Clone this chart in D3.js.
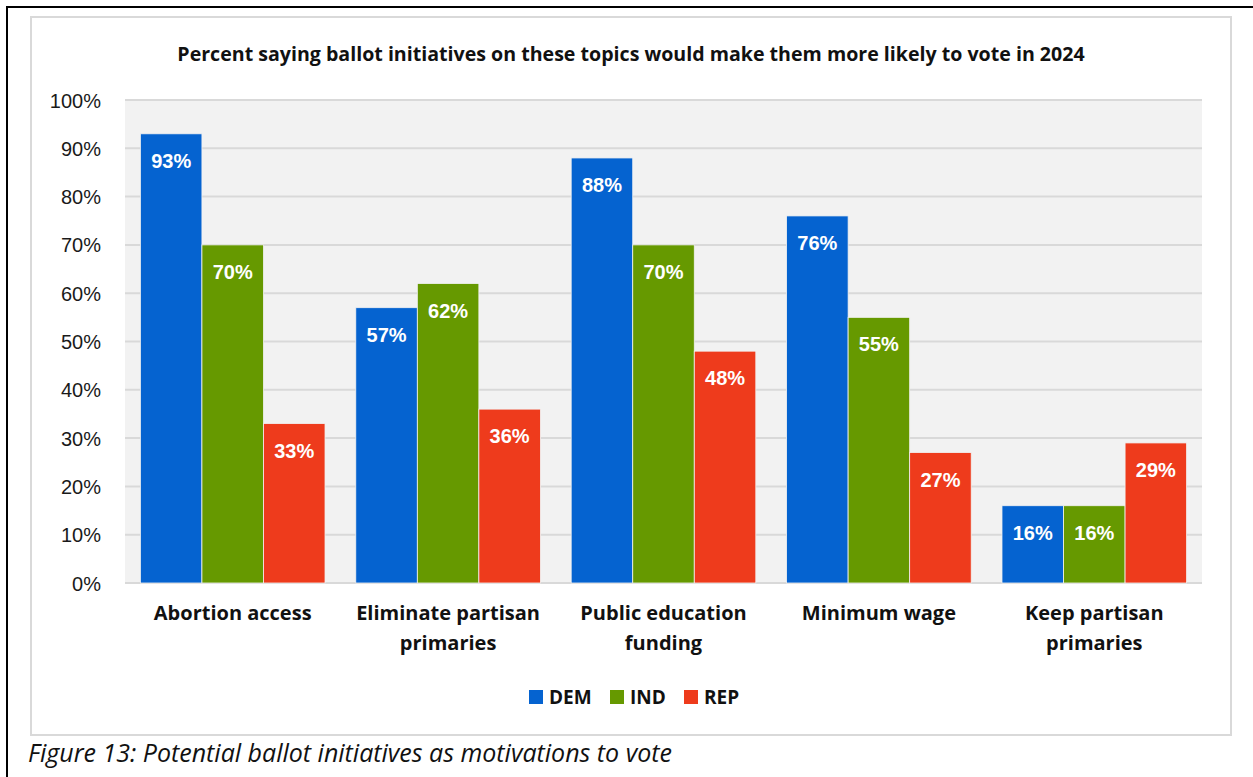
<!DOCTYPE html>
<html>
<head>
<meta charset="utf-8">
<script src="https://cdn.jsdelivr.net/npm/d3@7"></script>
<style>
  html, body { margin: 0; padding: 0; background: #fff; }
  svg { display: block; }
</style>
</head>
<body>
<svg id="svg"></svg>
<script>
// survey results, percent per party and topic
var topics = [["Abortion access"], ["Eliminate partisan", "primaries"], ["Public education", "funding"], ["Minimum wage"], ["Keep partisan", "primaries"]];
var parties = ["DEM", "IND", "REP"];
var dem = [93, 57, 88, 76, 16];
var ind = [70, 62, 70, 55, 16];
var rep = [33, 36, 48, 27, 29];
var yTicks = [0, 10, 20, 30, 40, 50, 60, 70, 80, 90, 100];

var colors = {DEM: "#0563d0", IND: "#669900", REP: "#ee3b1c"};
var series = {DEM: dem, IND: ind, REP: rep};

var width = 1253, height = 777;
var plot = {x1: 125, x2: 1202, y1: 100, y2: 583};
var labelFont = "'Open Sans', sans-serif";

var svg = d3.select("#svg").attr("width", width).attr("height", height);

// page frame (top and left rule)
svg.append("line").attr("x1", 6).attr("x2", width).attr("y1", 7).attr("y2", 7)
  .attr("stroke", "#000").attr("stroke-width", 2);
svg.append("line").attr("x1", 7).attr("x2", 7).attr("y1", 6).attr("y2", height)
  .attr("stroke", "#000").attr("stroke-width", 2);

// chart box
svg.append("rect").attr("x", 31).attr("y", 17).attr("width", 1200).attr("height", 718)
  .attr("fill", "#fff").attr("stroke", "#d9d9d9").attr("stroke-width", 2);

svg.append("rect").attr("x", plot.x1).attr("y", plot.y1)
  .attr("width", plot.x2 - plot.x1).attr("height", plot.y2 - plot.y1)
  .attr("fill", "#f2f2f2");

var x0 = d3.scaleBand().domain(d3.range(topics.length)).range([plot.x1, plot.x2]);
// gap width of half a bar on each group
var barW = x0.bandwidth() / (parties.length + 0.5);
var x1 = d3.scaleBand().domain(parties)
  .range([barW * 0.25, barW * 0.25 + barW * parties.length]);
var y = d3.scaleLinear().domain([0, 100]).range([plot.y2, plot.y1]);

// gridlines
svg.append("g").selectAll("line").data(yTicks).enter().append("line")
  .attr("x1", plot.x1).attr("x2", plot.x2)
  .attr("y1", function(d) { return y(d); }).attr("y2", function(d) { return y(d); })
  .attr("stroke", "#d9d9d9").attr("stroke-width", 2);

// y axis labels
var yAxis = d3.axisLeft(y).tickValues(yTicks).tickSize(0).tickPadding(0)
  .tickFormat(function(d) { return d + "%"; });
var ga = svg.append("g").attr("transform", "translate(101,0)").call(yAxis);
ga.select(".domain").remove();
ga.selectAll("text").attr("font-family", "Liberation Sans, Arial, sans-serif")
  .attr("font-size", 20).attr("fill", "#1a1a1a").attr("dy", "0.35em");

// bars
var groups = svg.append("g").selectAll("g").data(topics).enter().append("g")
  .attr("transform", function(d, i) { return "translate(" + x0(i) + ",0)"; });

groups.each(function(t, i) {
  var g = d3.select(this);
  parties.forEach(function(p) {
    var v = series[p][i];
    g.append("rect")
      .attr("x", x1(p)).attr("width", x1.bandwidth())
      .attr("y", y(v)).attr("height", y(0) - y(v))
      .attr("fill", colors[p]).attr("stroke", "#f2f2f2").attr("stroke-width", 0.8);
    g.append("text")
      .attr("x", x1(p) + x1.bandwidth() / 2).attr("y", y(v) + 34)
      .attr("text-anchor", "middle")
      .attr("font-family", "Liberation Sans, Arial, sans-serif")
      .attr("font-weight", "bold").attr("font-size", 20).attr("fill", "#fff")
      .text(v + "%");
  });
  var lab = g.append("text")
    .attr("text-anchor", "middle")
    .attr("font-family", labelFont).attr("font-weight", "bold")
    .attr("font-size", 20).attr("fill", "#111");
  t.forEach(function(line, k) {
    lab.append("tspan").attr("x", x0.bandwidth() / 2).attr("y", 620 + k * 30).text(line);
  });
});

// title
svg.append("text").attr("x", 631).attr("y", 61).attr("text-anchor", "middle")
  .attr("font-family", labelFont).attr("font-weight", "bold")
  .attr("font-size", 19.6).attr("fill", "#111")
  .text("Percent saying ballot initiatives on these topics would make them more likely to vote in 2024");

// legend
var legendX = [529, 610, 684];
var lg = svg.append("g").selectAll("g").data(parties).enter().append("g")
  .attr("transform", function(d, i) { return "translate(" + legendX[i] + ",690)"; });
lg.append("rect").attr("width", 14).attr("height", 14)
  .attr("fill", function(d) { return colors[d]; });
lg.append("text").attr("x", 20).attr("y", 14)
  .attr("font-family", labelFont).attr("font-weight", "bold")
  .attr("font-size", 19).attr("fill", "#111")
  .text(function(d) { return d; });

// caption
svg.append("text").attr("x", 28).attr("y", 762)
  .attr("font-family", labelFont).attr("font-style", "italic")
  .attr("font-size", 25).attr("fill", "#111")
  .text("Figure 13: Potential ballot initiatives as motivations to vote");
</script>
</body>
</html>
